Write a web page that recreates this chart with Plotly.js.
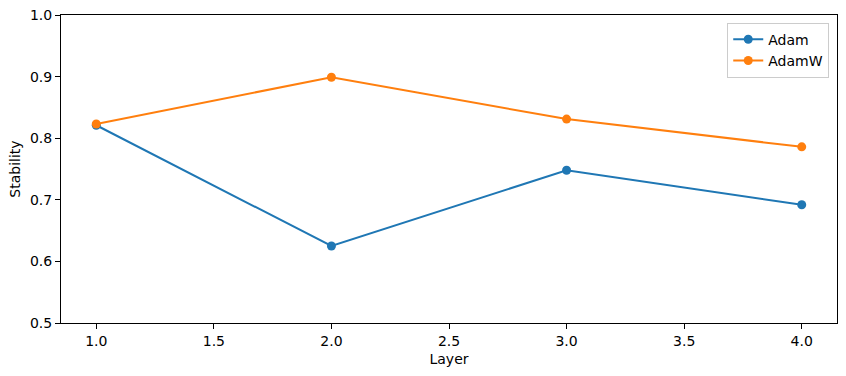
<!DOCTYPE html>
<html>
<head>
<meta charset="utf-8">
<script src="https://cdn.plot.ly/plotly-3.0.1.min.js"></script>
<style>
  html, body { margin: 0; padding: 0; background: #fff; }
  #chart { width: 846px; height: 376px; }
</style>
</head>
<body>
<div id="chart"></div>
<script>
const layers = [1, 2, 3, 4];
const adam = [0.821, 0.625, 0.748, 0.692];
const adamW = [0.823, 0.899, 0.831, 0.786];

const font = { family: 'DejaVu Sans, sans-serif', size: 14, color: '#000' };

const data = [
  {
    x: layers,
    y: adam,
    name: 'Adam',
    mode: 'lines+markers',
    type: 'scatter',
    line: { color: '#1f77b4', width: 2 },
    marker: { color: '#1f77b4', size: 9 }
  },
  {
    x: layers,
    y: adamW,
    name: 'AdamW',
    mode: 'lines+markers',
    type: 'scatter',
    line: { color: '#ff7f0e', width: 2 },
    marker: { color: '#ff7f0e', size: 9 }
  }
];

const axisStyle = {
  showgrid: false,
  zeroline: false,
  showline: true,
  mirror: true,
  linecolor: '#000',
  linewidth: 1,
  ticks: 'outside',
  ticklen: 5,
  tickcolor: '#000',
  tickfont: font
};

const layout = {
  width: 846,
  height: 376,
  margin: { l: 61, r: 9, t: 15, b: 53 },
  paper_bgcolor: '#fff',
  plot_bgcolor: '#fff',
  font: font,
  showlegend: true,
  xaxis: Object.assign({}, axisStyle, {
    range: [0.85, 4.15],
    tickvals: [1, 1.5, 2, 2.5, 3, 3.5, 4],
    ticktext: ['1.0', '1.5', '2.0', '2.5', '3.0', '3.5', '4.0'],
    title: { text: 'Layer', font: font, standoff: 6 }
  }),
  yaxis: Object.assign({}, axisStyle, {
    range: [0.5, 1.0],
    tickvals: [0.5, 0.6, 0.7, 0.8, 0.9, 1.0],
    ticktext: ['0.5', '0.6', '0.7', '0.8', '0.9', '1.0'],
    title: { text: 'Stability', font: font, standoff: 6 }
  }),
  legend: {
    x: 0.99,
    y: 0.975,
    xanchor: 'right',
    yanchor: 'top',
    bgcolor: 'rgba(255,255,255,0.8)',
    bordercolor: '#ccc',
    borderwidth: 1,
    font: font,
    itemwidth: 30
  }
};

Plotly.newPlot('chart', data, layout, { displayModeBar: false, staticPlot: true });
</script>
</body>
</html>
